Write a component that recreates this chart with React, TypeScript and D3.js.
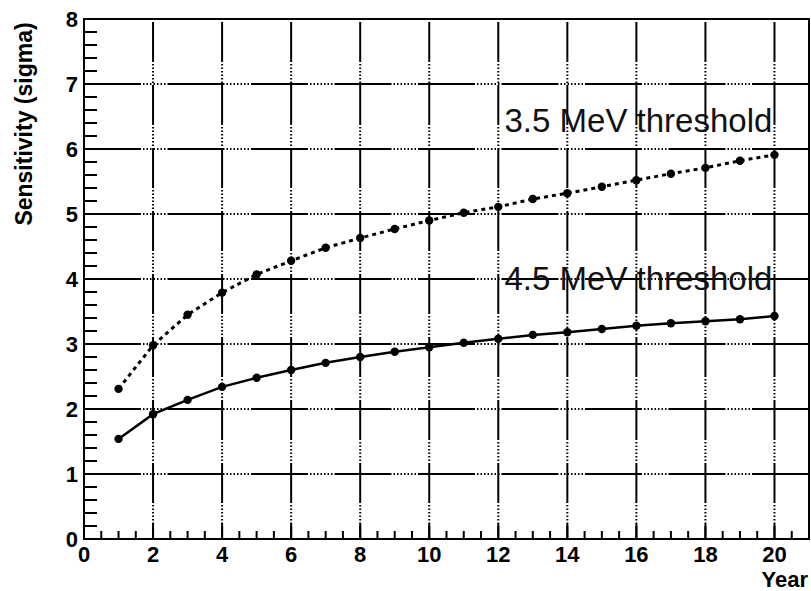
import React, { useEffect, useRef } from "react";
import * as d3 from "d3";

const years = d3.range(1, 21);
const sens35 = [2.31, 2.98, 3.45, 3.79, 4.07, 4.28, 4.48, 4.63, 4.77, 4.9, 5.02, 5.11, 5.23, 5.32, 5.42, 5.52, 5.62, 5.71, 5.82, 5.91];
const sens45 = [1.54, 1.92, 2.14, 2.34, 2.48, 2.6, 2.71, 2.8, 2.88, 2.95, 3.02, 3.08, 3.14, 3.18, 3.23, 3.28, 3.32, 3.35, 3.38, 3.43];
const xTicks = [0, 2, 4, 6, 8, 10, 12, 14, 16, 18, 20];
const yTicks = [0, 1, 2, 3, 4, 5, 6, 7, 8];
const labels = [
  { text: "3.5 MeV threshold", x: 12.18, y: 6.26 },
  { text: "4.5 MeV threshold", x: 12.18, y: 3.83 },
];

const W = 811;
const H = 591;

const App = () => {
  const ref = useRef<SVGSVGElement>(null);

  useEffect(() => {
    const svg = d3.select(ref.current);
    svg.selectAll("*").remove();

    const margin = { top: 19, right: 2, bottom: 52, left: 84 };
    const width = W - margin.left - margin.right;
    const height = H - margin.top - margin.bottom;

    const x = d3.scaleLinear().domain([0, 21]).range([0, width]);
    const y = d3.scaleLinear().domain([0, 8]).range([height, 0]);

    const g = svg.append("g").attr("transform", `translate(${margin.left},${margin.top})`);

    // grid (dotted ROOT grid that shows up mostly solid)
    const hDash = [57, 2, 1.5, 2, 1.5, 2, 1.5, 2, 1.5, 2, 1.5, 2, 1.5, 2, 1.5, 2].join(",");
    const vDash = [40, 2, 1.5, 2, 1.5, 2, 1.5, 2, 1.5, 2, 1.5, 2, 1.5, 2].join(",");

    g.append("g")
      .selectAll("line")
      .data(yTicks.filter((d) => d > 0 && d < 8))
      .enter()
      .append("line")
      .attr("x1", 0)
      .attr("x2", width)
      .attr("y1", (d) => y(d))
      .attr("y2", (d) => y(d))
      .attr("stroke", "#000")
      .attr("stroke-width", 2)
      .attr("stroke-dasharray", hDash);

    g.append("g")
      .selectAll("line")
      .data(xTicks.filter((d) => d > 0))
      .enter()
      .append("line")
      .attr("x1", (d) => x(d))
      .attr("x2", (d) => x(d))
      .attr("y1", 3)
      .attr("y2", height)
      .attr("stroke", "#000")
      .attr("stroke-width", 2)
      .attr("stroke-dasharray", vDash)
      .attr("stroke-dashoffset", -(y(7) - 3) - 1);

    // minor ticks
    const yMinor = d3.range(0, 40).map((i) => i * 0.2);
    g.append("g")
      .selectAll("line")
      .data(yMinor)
      .enter()
      .append("line")
      .attr("x1", 0)
      .attr("x2", (d, i) => (i % 5 === 0 ? 26 : 13))
      .attr("y1", (d) => y(d))
      .attr("y2", (d) => y(d))
      .attr("stroke", "#000")
      .attr("stroke-width", 2);

    const xMinor = d3.range(1, 42).map((i) => i * 0.5);
    g.append("g")
      .selectAll("line")
      .data(xMinor)
      .enter()
      .append("line")
      .attr("x1", (d) => x(d))
      .attr("x2", (d) => x(d))
      .attr("y1", height)
      .attr("y2", (d) => (d % 2 === 0 ? height - 15 : height - 8))
      .attr("stroke", "#000")
      .attr("stroke-width", 2);

    // frame
    g.append("rect")
      .attr("x", 0)
      .attr("y", 0)
      .attr("width", width)
      .attr("height", height)
      .attr("fill", "none")
      .attr("stroke", "#000")
      .attr("stroke-width", 2);

    // tick labels
    g.append("g")
      .selectAll("text")
      .data(yTicks)
      .enter()
      .append("text")
      .attr("x", -6)
      .attr("y", (d) => y(d))
      .attr("dy", "0.36em")
      .attr("text-anchor", "end")
      .style("font", "bold 22px 'Liberation Sans', Arial, sans-serif")
      .text((d) => d);

    g.append("g")
      .selectAll("text")
      .data(xTicks)
      .enter()
      .append("text")
      .attr("x", (d) => x(d))
      .attr("y", height + 23)
      .attr("text-anchor", "middle")
      .style("font", "bold 22px 'Liberation Sans', Arial, sans-serif")
      .text((d) => d);

    // axis titles
    svg.append("text")
      .attr("transform", `translate(32,124) rotate(-90)`)
      .attr("text-anchor", "middle")
      .style("font", "bold 23px 'Liberation Sans', Arial, sans-serif")
      .text("Sensitivity (sigma)");

    svg.append("text")
      .attr("x", 808)
      .attr("y", 587)
      .attr("text-anchor", "end")
      .style("font", "bold 22px 'Liberation Sans', Arial, sans-serif")
      .text("Year");

    // series
    const line = d3
      .line<number>()
      .x((d, i) => x(years[i]))
      .y((d) => y(d));

    g.append("path")
      .attr("d", line(sens35))
      .attr("fill", "none")
      .attr("stroke", "#000")
      .attr("stroke-width", 3)
      .attr("stroke-dasharray", "4,4");

    g.append("path")
      .attr("d", line(sens45))
      .attr("fill", "none")
      .attr("stroke", "#000")
      .attr("stroke-width", 2.5);

    [sens35, sens45].forEach((s) => {
      g.append("g")
        .selectAll("circle")
        .data(s)
        .enter()
        .append("circle")
        .attr("cx", (d, i) => x(years[i]))
        .attr("cy", (d) => y(d))
        .attr("r", 4.2)
        .attr("fill", "#000");
    });

    // series labels
    g.append("g")
      .selectAll("text")
      .data(labels)
      .enter()
      .append("text")
      .attr("x", (d) => x(d.x))
      .attr("y", (d) => y(d.y))
      .style("font", "33px 'Liberation Sans', Arial, sans-serif")
      .attr("fill", "#111")
      .text((d) => d.text);
  }, []);

  return (
    <svg
      ref={ref}
      width={W}
      height={H}
      style={{ position: "absolute", left: 0, top: 0, background: "#fff" }}
    ></svg>
  );
};

export default App;
